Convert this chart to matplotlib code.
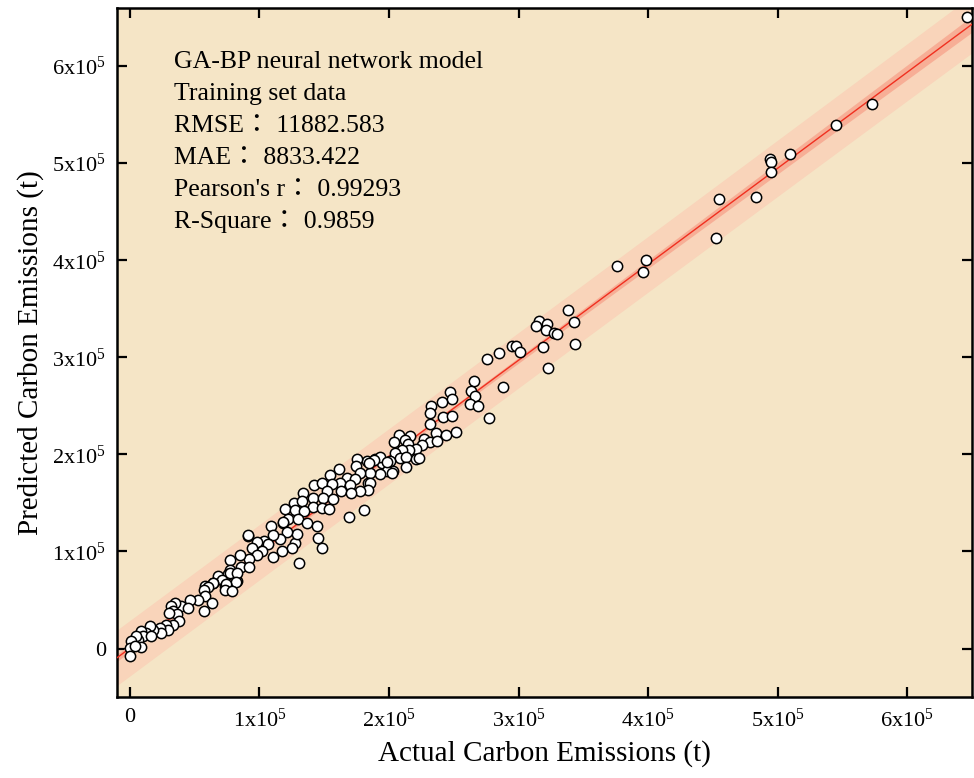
import numpy as np
import matplotlib
matplotlib.use('Agg')
import matplotlib.pyplot as plt

plt.rcParams['font.family'] = ['Liberation Serif', 'Noto Sans CJK TC']
plt.rcParams['mathtext.fontset'] = 'custom'
plt.rcParams['mathtext.rm'] = 'Liberation Serif'

# values, in thousands of tonnes
actual_k = [646, 573, 545, 509.8, 494, 494.7, 495, 483, 455, 452, 398.5, 396, 376,
            338, 342.9, 343.6, 316, 313.8, 322, 321, 327, 329.7, 319, 323, 295, 298, 301,
            285, 276, 265.4, 288, 247, 263.3, 248.6, 241, 266.6, 262.5, 268.7, 232.7, 232,
            242, 248.4, 277, 232, 236.3, 243.8, 251.7, 208, 216.4, 212.4, 203.6, 227.3,
            231.4, 236.8, 215, 225.5, 220.8, 215.7, 209.8, 204.6, 208.5, 213.4, 221, 222.8,
            212.9, 203.3, 182.7, 189.2, 194.4, 200.8, 198.2, 193, 185.3, 202, 184, 193,
            188.7, 184.8, 198.7, 175.5, 174.5, 177.6, 161.4, 154.4, 167.3, 173.7, 162.2,
            170, 185.3, 184, 177.6, 142.3, 148, 156.2, 152.4, 163, 170.7, 133.8, 141,
            149.3, 157, 126.6, 133, 141.5, 148, 153.8, 119.7, 127.4, 134.6, 122.2, 129.5,
            118.4, 136.4, 144.2, 180.9, 169.3, 145, 148.5, 130.3, 127.4, 128.7, 124.9,
            117.9, 121, 115.8, 117.1, 108.6, 110.7, 103.5, 106.8, 110.2, 97.8, 101.7, 91.4,
            94, 97.8, 92.1, 84.9, 85.5, 92.1, 77.2, 77.2, 75.9, 82.4, 68.2, 70.8, 64.3,
            73.4, 57.9, 64.1, 60.2, 77, 82.8, 82, 74.4, 73.1, 78.8, 57.1, 58.2, 52.5, 63.6,
            57.1, 46.1, 39.6, 44.8, 34.5, 31.4, 33.2, 36.5, 30.6, 37.8, 33.2, 28, 29.3,
            22.9, 24.2, 17.8, 15.2, 12.6, 8.7, 10, 6.2, 4.9, 1, -0.2, 8.3, 3.6, -0.2, 16.4,
            90.9]
predicted_k = [651, 561, 539, 509.6, 504, 500.7, 491, 465.6, 463, 423, 400, 387.6, 393.8,
               348.8, 336.8, 313.7, 337, 332.3, 334, 328, 325, 324.4, 311, 289, 311.7, 312,
               305, 304, 298.6, 276, 269.4, 264.2, 265.3, 256.7, 254.3, 260.1, 252, 249.8,
               249.8, 242.6, 238.9, 240, 237.8, 231, 222.4, 219.9, 222.7, 219.9, 219.3,
               214.7, 212.7, 216.2, 213, 213.7, 211, 210, 206, 204, 204.8, 201, 196.6, 197.2,
               194.8, 196.6, 187, 182.8, 193, 194.8, 191.3, 193, 182.8, 179.4, 181, 181, 171,
               197.2, 194.1, 190.7, 192, 194.8, 188, 181, 184.5, 178.4, 175.8, 174.2, 170.1,
               168, 170.8, 163.2, 162.2, 168, 170.8, 169, 162.2, 162.2, 160.6, 160.6, 155,
               154.6, 153.6, 150.2, 151.9, 146, 145, 143.3, 143.3, 142.6, 141.5, 133.7, 133,
               129.6, 128.9, 126, 142.6, 135.4, 113.9, 103.1, 88.4, 109, 117.5, 103.8, 130.2,
               120, 112.4, 100.3, 126, 116.5, 110.6, 107.2, 94.5, 109.6, 100.3, 115.8, 103.8,
               95.9, 91.8, 95.9, 84.2, 84.2, 91, 81.4, 76.3, 69.4, 74.5, 71.1, 67.7, 64.9,
               64.2, 67, 63.6, 78, 78, 68.4, 66, 60.8, 59.1, 60.8, 53.9, 50.5, 47, 38.5, 50.5,
               43.6, 42, 47, 43.6, 38.5, 35.1, 36.8, 28.1, 24.7, 24.7, 19.6, 21.3, 16.2, 19.6,
               23, 16.2, 17.8, 12.7, 9.3, 13.4, 7.5, 0.7, 1.8, 3.1, -8, 12.7, 116.5]

tick_values = [0, 1e5, 2e5, 3e5, 4e5, 5e5, 6e5]
tick_labels = ['0'] + [r'$\mathregular{%dx10^5}$' % i for i in range(1, 7)]
stats_lines = ['GA-BP neural network model', 'Training set data',
               'RMSE\uff1a 11882.583', 'MAE\uff1a 8833.422',
               "Pearson's r\uff1a 0.99293", 'R-Square\uff1a 0.9859']

x = np.array(actual_k) * 1e3
y = np.array(predicted_k) * 1e3

# linear fit with confidence / prediction bands
n = len(x)
slope, intercept = np.polyfit(x, y, 1)
resid = y - (slope * x + intercept)
s = np.sqrt(np.sum(resid ** 2) / (n - 2))
xf = np.linspace(-1e4, 6.5e5, 300)
yf = slope * xf + intercept
sxx = np.sum((x - x.mean()) ** 2)
t = 1.97
conf = t * s * np.sqrt(1 / n + (xf - x.mean()) ** 2 / sxx)
pred = t * s * np.sqrt(1 + 1 / n + (xf - x.mean()) ** 2 / sxx)

fig, ax = plt.subplots(figsize=(9.74, 7.78), dpi=100)
fig.subplots_adjust(left=0.120, right=0.998, bottom=0.104, top=0.990)
ax.set_facecolor('#F5E5C6')

ax.fill_between(xf, yf - pred, yf + pred, color='#F9D4BA', lw=0, zorder=1)
ax.fill_between(xf, yf - conf, yf + conf, color='#F7AE96', lw=0, zorder=2)
ax.plot(xf, yf, color='#F03020', lw=1.0, zorder=3)
ax.scatter(x, y, s=55, facecolor='white', edgecolor='black', linewidths=1.1, zorder=4)

ax.set_xlim(-1e4, 6.5e5)
ax.set_ylim(-5e4, 6.6e5)
ax.set_xticks(tick_values)
ax.set_xticklabels(tick_labels)
ax.set_yticks(tick_values)
ax.set_yticklabels(tick_labels)
ax.tick_params(direction='in', length=7, width=1.6, labelsize=16, pad=8,
               top=True, right=True)

for sp in ax.spines.values():
    sp.set_linewidth(1.8)

ax.set_xlabel('Actual Carbon Emissions (t)', fontsize=21, labelpad=6)
ax.set_ylabel('Predicted Carbon Emissions (t)', fontsize=21, labelpad=6)

for i, line in enumerate(stats_lines):
    ax.text(0.067, 0.913 - i * 0.0464, line, transform=ax.transAxes,
            fontsize=18.5, va='baseline', ha='left')

fig.savefig('out.png', dpi=100)
